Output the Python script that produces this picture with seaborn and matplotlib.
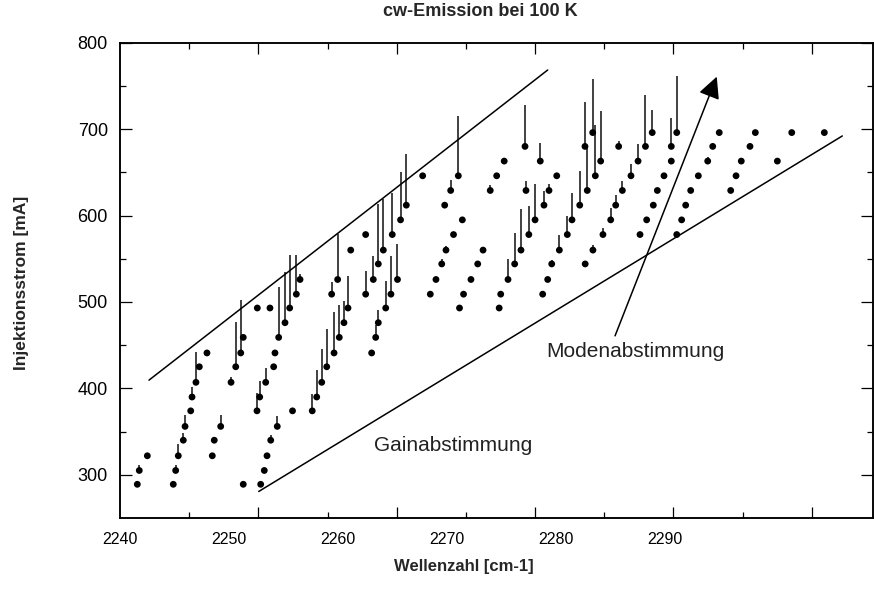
import numpy as np
import pandas as pd
import matplotlib
matplotlib.use("Agg")
import matplotlib.pyplot as plt
import seaborn as sns
from matplotlib.ticker import FixedLocator, NullFormatter

sns.set_theme(style="white")
plt.rcParams["font.family"] = ["Liberation Sans", "DejaVu Sans"]

# ---- data -----------------------------------------------------------------
wavenumber = [
    2241.56, 2241.74, 2242.48, 2244.86, 2245.08, 2245.32, 2245.78, 2245.94, 2246.46, 2246.58,
    2246.94, 2247.25, 2247.95, 2248.44, 2248.62, 2249.21, 2250.16, 2250.59, 2251.05, 2251.28,
    2251.28, 2252.88, 2253.21, 2253.46, 2253.80, 2254.40, 2252.54, 2252.79, 2253.34, 2254.07,
    2254.19, 2254.53, 2255.11, 2255.80, 2257.61, 2258.02, 2258.48, 2258.94, 2259.61, 2260.09,
    2260.52, 2260.89, 2255.54, 2256.15, 2256.49, 2252.57, 2253.73, 2259.39, 2259.94, 2261.14,
    2262.51, 2262.51, 2263.06, 2263.43, 2263.67, 2264.35, 2264.83, 2265.43, 2265.71, 2264.13,
    2263.67, 2263.21, 2264.95, 2266.24, 2267.74, 2271.01, 2270.31, 2269.76, 2271.38, 2270.57,
    2269.88, 2269.49, 2268.96, 2268.44, 2271.12, 2271.49, 2272.17, 2272.79, 2273.28, 2273.94,
    2274.53, 2275.22, 2278.53, 2274.76, 2274.90, 2275.57, 2276.18, 2276.76, 2277.48, 2278.05,
    2277.22, 2277.13, 2280.04, 2279.33, 2278.87, 2281.01, 2281.44, 2282.15, 2282.84, 2283.58,
    2283.34, 2282.63, 2284.07, 2285.72, 2284.28, 2284.99, 2285.45, 2286.06, 2286.85, 2287.50,
    2288.18, 2288.80, 2287.68, 2288.29, 2288.90, 2289.27, 2289.88, 2290.55, 2290.55, 2291.05,
    2291.05, 2291.50, 2291.87, 2292.33, 2293.03, 2293.89, 2294.35, 2294.95, 2296.00, 2296.49,
    2296.97, 2297.77, 2298.26, 2300.28, 2301.60, 2304.59, 2283.36, 2282.65, 2280.28, 2279.58,
    2279.21, 2278.75,
]
current = [
    289, 305, 322, 289, 305, 322, 340, 356, 374, 390,
    407, 425, 441, 322, 340, 356, 407, 425, 441, 459,
    289, 289, 305, 322, 340, 356, 374, 390, 407, 425,
    441, 459, 476, 374, 374, 390, 407, 425, 441, 459,
    476, 493, 493, 509, 526, 493, 493, 509, 526, 560,
    578, 509, 441, 459, 476, 493, 509, 526, 595, 560,
    544, 526, 578, 612, 646, 646, 629, 612, 595, 578,
    560, 544, 526, 509, 493, 509, 526, 544, 560, 629,
    646, 663, 663, 493, 509, 526, 544, 560, 578, 595,
    629, 680, 646, 629, 612, 578, 595, 612, 629, 646,
    696, 680, 663, 680, 578, 595, 612, 629, 646, 663,
    680, 696, 578, 595, 612, 629, 646, 663, 680, 696,
    578, 595, 612, 629, 646, 663, 680, 696, 629, 646,
    663, 680, 696, 663, 696, 696, 560, 544, 560, 544,
    526, 509,
]
# upper end of the vertical intensity line drawn above a point (nan = none)
line_top = [
    np.nan, 311, np.nan, np.nan, 311, 336, 348, 369, np.nan, 402,
    442, np.nan, np.nan, np.nan, np.nan, 369, 413, 477, 502, np.nan,
    np.nan, np.nan, np.nan, np.nan, 346, 368, 395, 408, 423, np.nan,
    np.nan, 517, 535, np.nan, 394, 421, 446, 469, 488, 497,
    501, 530, 554, 554, 532, np.nan, np.nan, 523, 579, np.nan,
    np.nan, 536, np.nan, 473, 491, 524, 553, 567, 650, 619,
    613, 553, 626, 671, np.nan, 715, 641, np.nan, np.nan, np.nan,
    565, 550, np.nan, np.nan, np.nan, np.nan, np.nan, np.nan, np.nan, 635,
    np.nan, 667, 684, np.nan, 513, 550, 580, 607, 611, 637,
    640, 728, np.nan, 636, 628, 599, 626, 651, 679, 705,
    758, 731, 721, 686, 586, 609, 624, 640, 660, 683,
    739, 722, np.nan, np.nan, np.nan, np.nan, np.nan, np.nan, 713, 762,
    np.nan, np.nan, np.nan, np.nan, np.nan, 668, np.nan, np.nan, np.nan, np.nan,
    np.nan, np.nan, np.nan, np.nan, np.nan, np.nan, 566, np.nan, 577, 549,
    np.nan, np.nan,
]

x_tick_labels = [2240, 2250, 2260, 2270, 2280, 2290]
y_tick_labels = [300, 400, 500, 600, 700, 800]

# guide lines and arrow (data coordinates)
gain_x, gain_y = [2252.70, 2306.24], [280.7, 692.1]
upper_x, upper_y = [2242.63, 2279.21], [409.5, 768.4]
mode_arrow_start, mode_arrow_end = (2285.39, 460.8), (2294.72, 760.7)

# ---- figure ---------------------------------------------------------------
W, H = 874, 603
fig = plt.figure(figsize=(W / 100, H / 100), dpi=100)
fig.patch.set_facecolor("white")
L, R, T, B = 120.3, 873.0, 42.7, 518.0
ax = fig.add_axes([L / W, 1 - B / H, (R - L) / W, (B - T) / H])
ax.set_facecolor("white")

df = pd.DataFrame({"wn": wavenumber, "cur": current, "top": line_top})
bars = df.dropna(subset=["top"])
ax.vlines(bars["wn"], bars["cur"], bars["top"], color="#333333", lw=1.3, zorder=2)
sns.scatterplot(data=df, x="wn", y="cur", ax=ax, color="black", s=24,
                edgecolor="none", linewidth=0, zorder=3, legend=False)

ax.plot(gain_x, gain_y, color="black", lw=1.1, zorder=2)
ax.plot(upper_x, upper_y, color="black", lw=1.1, zorder=2)
ax.annotate("", xy=mode_arrow_end, xytext=mode_arrow_start,
            arrowprops=dict(arrowstyle="-|>,head_length=0.6,head_width=0.3",
                            mutation_scale=22, color="black", lw=1.1,
                            shrinkA=0, shrinkB=0))
ax.text(2263.3, 328.0, "Gainabstimmung", fontsize=15, color="#222222", va="baseline")
ax.text(2279.06, 436.5, "Modenabstimmung", fontsize=15, color="#222222", va="baseline")

x_px_per_unit = 10.9
ax.set_xlim(2240, 2240 + (R - L) / x_px_per_unit)
ax.set_ylim(250, 800)

# labelled ticks (no marks on x)
ax.set_xticks(x_tick_labels)
ax.set_xticklabels([str(v) for v in x_tick_labels])
ax.tick_params(axis="x", which="major", length=0, pad=10, labelsize=11.5, colors="black")
ax.set_yticks(y_tick_labels)
ax.set_yticklabels([str(v) for v in y_tick_labels])
ax.yaxis.set_minor_locator(FixedLocator([350, 450, 550, 650, 750]))
ax.tick_params(axis="y", which="major", direction="in", length=8.6, width=0.9,
               left=True, right=True, labelsize=13, pad=9, colors="black")
ax.tick_params(axis="y", which="minor", direction="in", length=4.5, width=0.9,
               left=True, right=True, colors="black")

# x tick marks are on their own grid, independent of the labels
ax2 = ax.twiny()
ax2.set_xlim(ax.get_xlim())
step = 6.345
first = 2246.33
marks = [first + i * step for i in range(10)]
ax2.xaxis.set_major_locator(FixedLocator(marks[1::2]))
ax2.xaxis.set_minor_locator(FixedLocator(marks[0::2]))
ax2.xaxis.set_major_formatter(NullFormatter())
ax2.tick_params(axis="x", which="major", direction="in", length=7.7, width=0.9,
                top=True, bottom=True, labeltop=False, labelbottom=False, colors="black")
ax2.tick_params(axis="x", which="minor", direction="in", length=4.3, width=0.9,
                top=True, bottom=True, labeltop=False, labelbottom=False, colors="black")

for a in (ax, ax2):
    for s in a.spines.values():
        s.set_color("black")
        s.set_linewidth(1.1)
    a.grid(False)

ax.set_xlabel("Wellenzahl [cm-1]", fontsize=12, fontweight="bold")
ax.xaxis.set_label_coords((464 - L) / (R - L), (B - 566) / (B - T))
ax.xaxis.label.set_va("center")
ax.set_ylabel("Injektionsstrom [mA]", fontsize=12.5, fontweight="bold")
ax.yaxis.set_label_coords((22 - L) / (R - L), (B - 283) / (B - T))
ax.yaxis.label.set_va("center")

fig.text(480 / W, 1 - 12 / H, "cw-Emission bei 100 K", fontsize=13,
         fontweight="bold", ha="center", va="center")

fig.savefig("out.png", dpi=100, facecolor="white")
